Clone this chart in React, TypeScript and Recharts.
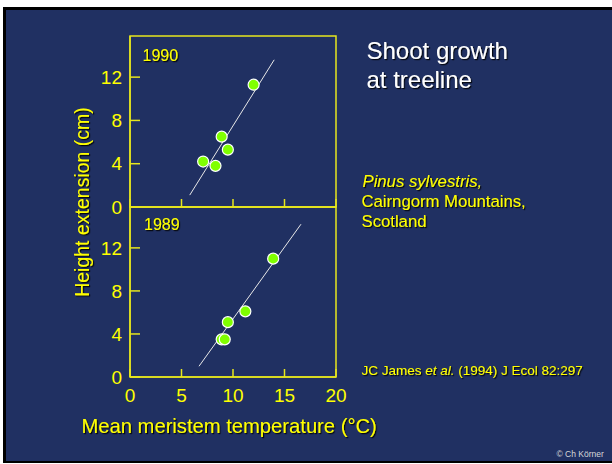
import React from 'react';
import { ScatterChart, Scatter, XAxis, YAxis, ReferenceArea } from 'recharts';

const xTicks = [0, 5, 10, 15, 20];
const yTicks = [0, 4, 8, 12];
const xDomain: [number, number] = [0, 20];
const yDomain: [number, number] = [0, 15.8];

const temp1990 = [7.1, 8.3, 8.9, 9.5, 12.0];
const growth1990 = [4.2, 3.8, 6.5, 5.3, 11.3];
const fitTemp1990 = [5.8, 14.0];
const fitGrowth1990 = [1.1, 13.6];

const temp1989 = [8.9, 9.2, 9.5, 11.2, 13.9];
const growth1989 = [3.5, 3.5, 5.1, 6.1, 11.0];
const fitTemp1989 = [6.7, 16.6];
const fitGrowth1989 = [1.0, 14.2];

const toPts = (xs: number[], ys: number[]) => xs.map((x, i) => ({ x, y: ys[i] }));

const YELLOW = '#FFFF00';
const LINE_Y = '#E6E61E';
const BLUE = '#203062';
const FONT = '"Liberation Sans", Arial, sans-serif';

const Dot = (p: any) => (
  <circle cx={p.cx} cy={p.cy} r={5.5} fill="#80FF00" stroke="#FFFFFF" strokeWidth={1.2} />
);
const NoDot = () => <g />;

function Panel({ pts, fit, top, bottom, showX }: { pts: any[]; fit: any[]; top: number; bottom: number; showX: boolean }) {
  return (
    <div style={{ position: 'absolute', left: 0, top: 0 }}>
      <ScatterChart width={612} height={464} margin={{ top, left: 90, right: 276, bottom }}>
        <XAxis
          type="number"
          dataKey="x"
          domain={xDomain}
          ticks={xTicks}
          height={30}
          tickSize={-8}
          tickMargin={20}
          stroke={LINE_Y}
          axisLine={{ stroke: LINE_Y, strokeWidth: 1.5 }}
          tickLine={{ stroke: LINE_Y, strokeWidth: 1.5 }}
          tick={{ fill: YELLOW, fontSize: 19, fontFamily: FONT }}
          tickFormatter={(v: number) => (showX ? String(v) : '')}
        />
        <YAxis
          type="number"
          dataKey="y"
          domain={yDomain}
          ticks={yTicks}
          width={40}
          tickSize={-10}
          tickMargin={18}
          axisLine={{ stroke: LINE_Y, strokeWidth: 1.5 }}
          tickLine={{ stroke: LINE_Y, strokeWidth: 1.5 }}
          tick={{ fill: YELLOW, fontSize: 19, fontFamily: FONT }}
        />
        <ReferenceArea
          x1={xDomain[0]}
          x2={xDomain[1]}
          y1={yDomain[0]}
          y2={yDomain[1]}
          fill="none"
          stroke={LINE_Y}
          strokeWidth={1.5}
        />
        <Scatter data={fit} line={{ stroke: '#E8E8E8', strokeWidth: 1 }} lineType="joint" shape={NoDot} isAnimationActive={false} />
        <Scatter data={pts} shape={Dot} isAnimationActive={false} />
      </ScatterChart>
    </div>
  );
}

export default function App() {
  return (
    <div style={{ position: 'fixed', left: 0, top: 0, width: 612, height: 464, background: '#fff', overflow: 'hidden' }}>
      <svg width={612} height={464} style={{ position: 'absolute', left: 0, top: 0 }}>
        <defs>
          <filter id="sh" x="-10%" y="-10%" width="120%" height="140%">
            <feDropShadow dx="1.2" dy="1.2" stdDeviation="0.4" floodColor="#000" floodOpacity="0.85" />
          </filter>
        </defs>
        <rect x={3} y={7} width={609} height={456} fill="#000" />
        <rect x={6} y={10} width={606} height={451} fill={BLUE} />
        <g fontFamily={FONT} filter="url(#sh)">
          <text x={366.5} y={59.3} fontSize={24} fill="#FFFFFF">Shoot growth</text>
          <text x={366.5} y={88.3} fontSize={24} fill="#FFFFFF">at treeline</text>
          <text x={362.5} y={186.7} fontSize={16.7} fill={YELLOW} fontStyle="italic">Pinus sylvestris,</text>
          <text x={361.5} y={207.3} fontSize={16.7} fill={YELLOW}>Cairngorm Mountains,</text>
          <text x={361.5} y={227.3} fontSize={16.7} fill={YELLOW}>Scotland</text>
          <text x={361.5} y={375} fontSize={13.5} fill={YELLOW}>
            JC James <tspan fontStyle="italic">et al.</tspan> (1994) J Ecol 82:297
          </text>
          <text x={142.5} y={60.7} fontSize={16} fill={YELLOW}>1990</text>
          <text x={144} y={230} fontSize={16} fill={YELLOW}>1989</text>
          <text x={81.5} y={432.5} fontSize={20.2} fill={YELLOW}>Mean meristem temperature (°C)</text>
          <text transform="translate(88.5,202) rotate(-90)" textAnchor="middle" fontSize={19.5} fill={YELLOW}>
            Height extension (cm)
          </text>
        </g>
        <text x={556.5} y={457.3} fontSize={8.5} fill="#D8D8D8" fontFamily={FONT}>© Ch Körner</text>
      </svg>
      <Panel pts={toPts(temp1990, growth1990)} fit={toPts(fitTemp1990, fitGrowth1990)} top={36} bottom={227} showX={false} />
      <Panel pts={toPts(temp1989, growth1989)} fit={toPts(fitTemp1989, fitGrowth1989)} top={207} bottom={57} showX={true} />
    </div>
  );
}
